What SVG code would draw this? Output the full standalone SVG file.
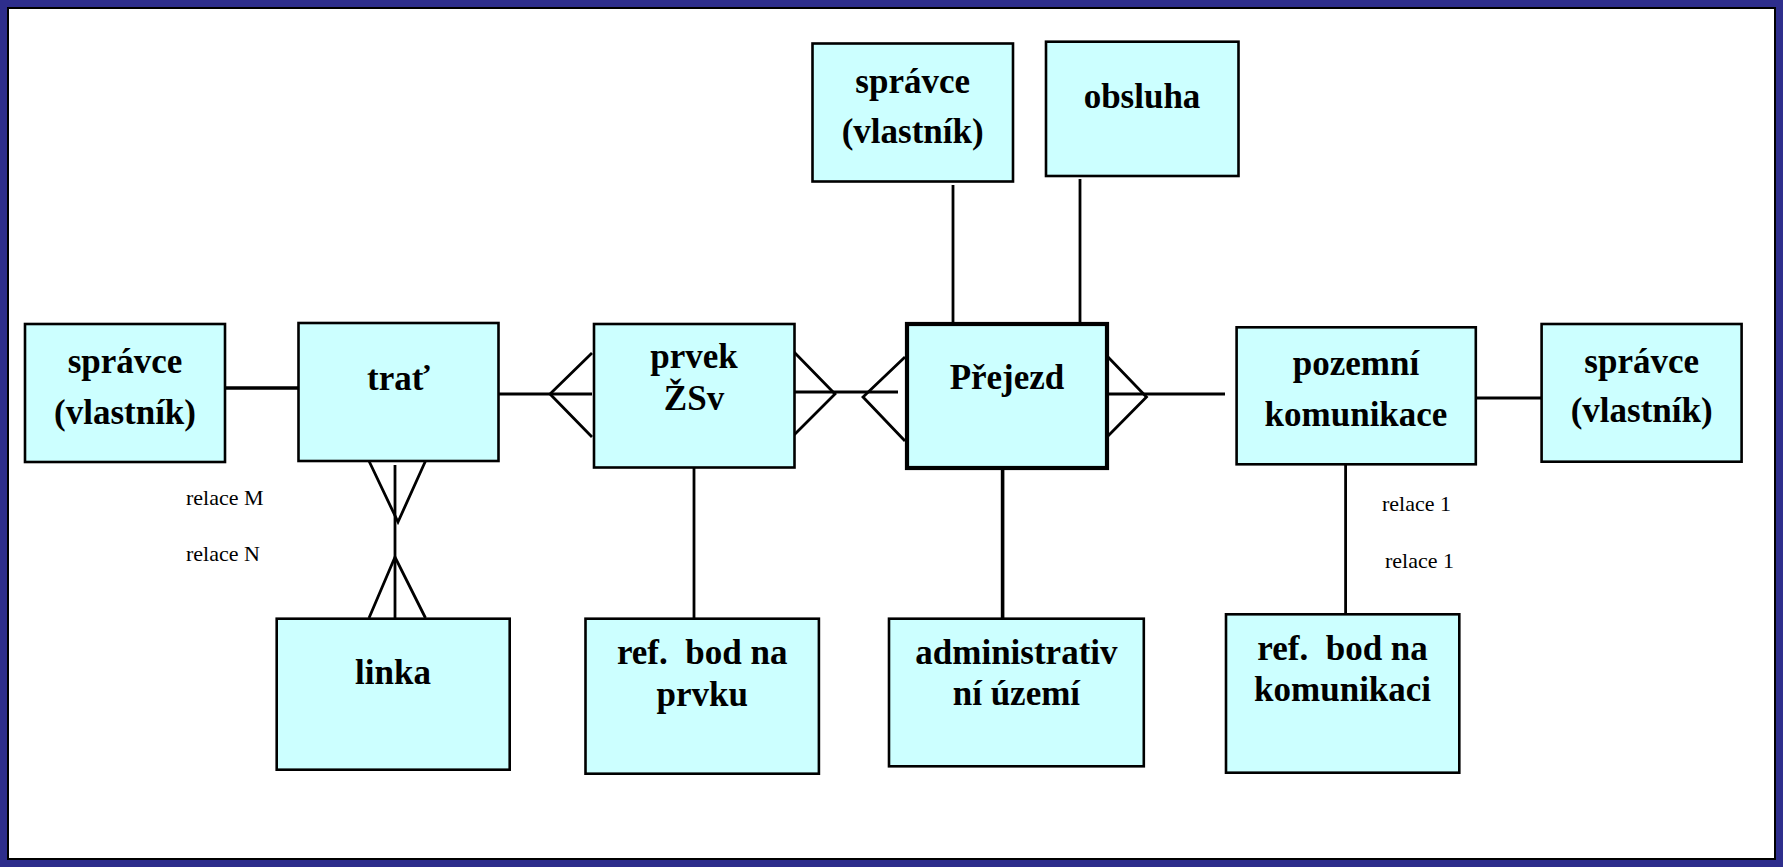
<svg xmlns="http://www.w3.org/2000/svg" width="1783" height="867" viewBox="0 0 1783 867">
<style>
.box{fill:#CCFFFF;stroke:#000;stroke-width:2.6}
.boxb{fill:#CCFFFF;stroke:#000;stroke-width:4.2}
.t{font-family:"Liberation Serif","Times New Roman",serif;font-weight:bold;font-size:35px;text-anchor:middle;fill:#000}
.r{font-family:"Liberation Serif","Times New Roman",serif;font-size:22px;fill:#000}
.c line,.c polyline{stroke:#000;stroke-width:2.8;fill:none}
</style>
<rect x="0" y="0" width="1783" height="867" fill="#2E2E8C"/>
<rect x="8" y="8" width="1767" height="851" fill="#FFFFFF" stroke="#000" stroke-width="2"/>

<g id="connectors" class="c">
<line x1="225" y1="388" x2="299" y2="388" style="stroke-width:3.4"/>
<line x1="496" y1="394" x2="592" y2="394"/>
<polyline points="592,353 550,394 592,437"/>
<line x1="791" y1="392" x2="898" y2="392"/>
<polyline points="794,352 835,394 794,435"/>
<polyline points="905,357 863,397 905,441"/>
<line x1="1108" y1="394" x2="1225" y2="394"/>
<polyline points="1108,357 1146.5,397 1108,436"/>
<line x1="1476" y1="398" x2="1542" y2="398"/>
<line x1="953" y1="185" x2="953" y2="324"/>
<line x1="1080" y1="179" x2="1080" y2="324"/>
<line x1="395" y1="465" x2="395" y2="618"/>
<polyline points="369,461 398,522 425.5,461"/>
<polyline points="369,618 395,557 425.5,618"/>
<line x1="694" y1="463" x2="694" y2="619"/>
<line x1="1002.6" y1="468" x2="1002.6" y2="623" style="stroke-width:3.6"/>
<line x1="1345.6" y1="464" x2="1345.6" y2="615"/>
</g>

<g id="spravce-top"><rect class="box" x="812.5" y="43.5" width="200.5" height="138"/>
<text class="t" x="912.7" y="93">správce</text><text class="t" x="912.7" y="143">(vlastník)</text></g>
<g id="obsluha"><rect class="box" x="1046" y="41.7" width="192.5" height="134.3"/>
<text class="t" x="1142" y="108">obsluha</text></g>
<g id="spravce-left"><rect class="box" x="25" y="324" width="200" height="138"/>
<text class="t" x="125" y="373">správce</text><text class="t" x="125" y="424">(vlastník)</text></g>
<g id="trat"><rect class="box" x="298.5" y="323" width="200" height="138"/>
<text class="t" x="398.5" y="390">trať</text></g>
<g id="prvek"><rect class="box" x="594" y="324" width="200.5" height="143.5"/>
<text class="t" x="694" y="368">prvek</text><text class="t" x="694" y="410">ŽSv</text></g>
<g id="prejezd"><rect class="boxb" x="907" y="324" width="200" height="144"/>
<text class="t" x="1007" y="389">Přejezd</text></g>
<g id="pozemni"><rect class="box" x="1236.6" y="327.3" width="239.2" height="137"/>
<text class="t" x="1356" y="375">pozemní</text><text class="t" x="1356" y="426">komunikace</text></g>
<g id="spravce-right"><rect class="box" x="1541.6" y="324" width="200" height="137.7"/>
<text class="t" x="1641.7" y="372.7">správce</text><text class="t" x="1641.7" y="421.7">(vlastník)</text></g>
<g id="linka"><rect class="box" x="276.7" y="618.7" width="233" height="151"/>
<text class="t" x="393" y="683.7">linka</text></g>
<g id="ref-prvku"><rect class="box" x="585.5" y="618.7" width="233.4" height="155"/>
<text class="t" x="702.2" y="664" xml:space="preserve">ref.  bod na</text><text class="t" x="702.2" y="706">prvku</text></g>
<g id="admin"><rect class="box" x="889" y="618.7" width="254.8" height="147.6"/>
<text class="t" x="1016.4" y="663.7">administrativ</text><text class="t" x="1016.4" y="705.3">ní území</text></g>
<g id="ref-kom"><rect class="box" x="1226" y="614.3" width="233.3" height="158.4"/>
<text class="t" x="1342.6" y="659.7" xml:space="preserve">ref.  bod na</text><text class="t" x="1342.6" y="701.3">komunikaci</text></g>

<g id="labels">
<text class="r" x="186" y="505">relace M</text>
<text class="r" x="186" y="561">relace N</text>
<text class="r" x="1382" y="510.7">relace 1</text>
<text class="r" x="1385" y="568">relace 1</text>
</g>
</svg>
